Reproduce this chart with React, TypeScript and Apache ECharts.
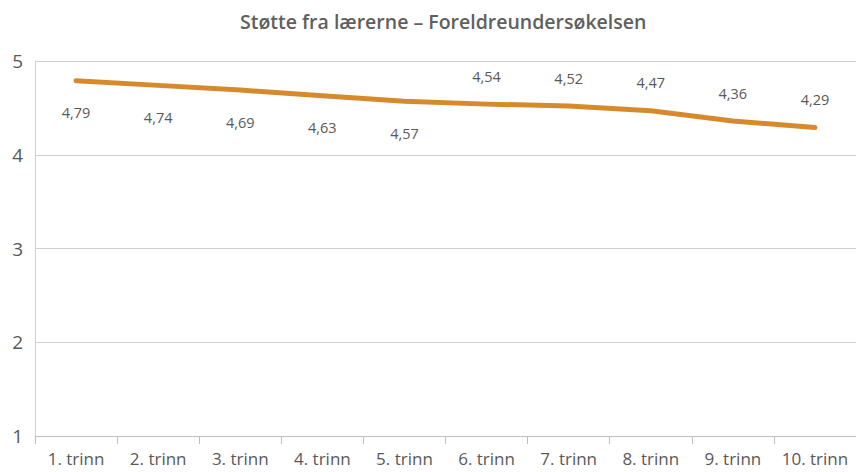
import React, { useEffect, useRef } from "react";
import * as echarts from "echarts";

const categories = ["1. trinn", "2. trinn", "3. trinn", "4. trinn", "5. trinn", "6. trinn", "7. trinn", "8. trinn", "9. trinn", "10. trinn"];
const values = [4.79, 4.74, 4.69, 4.63, 4.57, 4.54, 4.52, 4.47, 4.36, 4.29];
const labelBelow = [true, true, true, true, true, false, false, false, false, false];
const titleText = "Støtte fra lærerne – Foreldreundersøkelsen";

export default function App() {
  const ref = useRef<HTMLDivElement>(null);
  useEffect(() => {
    const chart = echarts.init(ref.current!, null, { renderer: "svg" });
    const font = "'Open Sans', sans-serif";
    chart.setOption({
      animation: false,
      title: {
        text: titleText,
        left: 235,
        top: 6,
        textStyle: { fontFamily: font, fontSize: 19.5, fontWeight: 600, color: "#5f5f5f" },
      },
      grid: { left: 35, top: 61, width: 830, height: 375, containLabel: false },
      xAxis: {
        type: "category",
        data: categories,
        boundaryGap: true,
        axisLine: { lineStyle: { color: "#bfbfbf", width: 1 } },
        axisTick: { show: true, interval: 0, length: 8, lineStyle: { color: "#bfbfbf" } },
        axisLabel: { interval: 0, fontFamily: font, fontSize: 17, color: "#595959", margin: 14 },
      },
      yAxis: {
        type: "value",
        min: 1,
        max: 5,
        interval: 1,
        axisLine: { show: true, lineStyle: { color: "#d0d0d0" } },
        axisTick: { show: false },
        splitLine: { lineStyle: { color: "#d0d0d0" } },
        axisLabel: { fontFamily: font, fontSize: 19, color: "#595959", margin: 12, padding: [12, 0, 0, 0] },
      },
      series: [
        {
          type: "line",
          data: values.map((v, i) => ({
            value: v,
            label: labelBelow[i]
              ? { show: true, position: "bottom", distance: 24 }
              : { show: true, position: "top", distance: 20 },
          })),
          symbol: "circle",
          symbolSize: 1,
          showSymbol: true,
          lineStyle: { color: "#D68A2C", width: 5, cap: "round", join: "round" },
          itemStyle: { color: "rgba(0,0,0,0)" },
          label: {
            show: true,
            fontFamily: font,
            fontSize: 14.5,
            color: "#595959",
            formatter: (p: any) => String(p.value).replace(".", ","),
          },
        },
      ],
    });
    return () => chart.dispose();
  }, []);
  return <div ref={ref} style={{ position: "absolute", left: 0, top: 0, width: 856, height: 472 }} />;
}
